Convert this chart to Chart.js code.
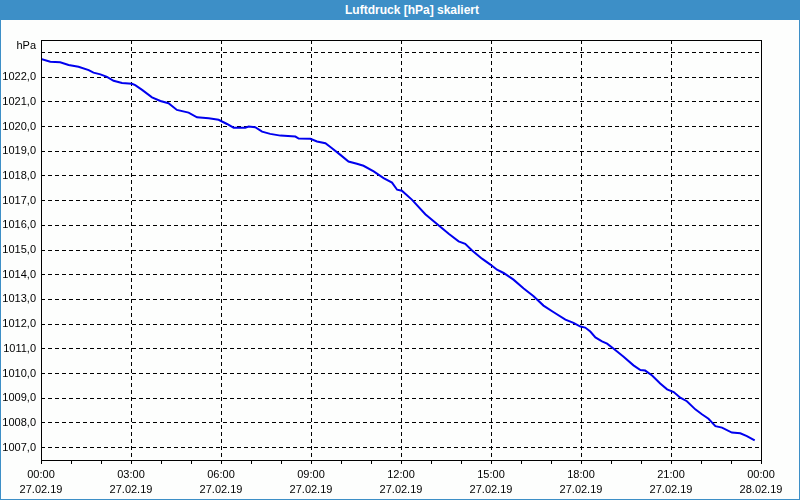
<!DOCTYPE html>
<html>
<head>
<meta charset="utf-8">
<script src="https://cdn.jsdelivr.net/npm/chart.js@4.4.1/dist/chart.umd.min.js"></script>
<style>
    html, body { margin: 0; padding: 0; background: #fdfefd; }
    #frame { position: relative; width: 798px; height: 499px; border: 1px solid #3d8fc7; border-top: none; background: #fdfefd; }
    #titlebar { height: 20px; background: #3d8fc7; color: #fff; font: bold 12px "Liberation Sans", sans-serif;
                line-height: 20px; text-align: center; padding-left: 24px; box-sizing: border-box; }
    #wrap { position: absolute; left: 0; top: 20px; width: 798px; height: 479px; }
</style>
</head>
<body>
<div id="frame">
    <div id="titlebar">Luftdruck [hPa] skaliert</div>
    <div id="wrap"><canvas id="pressChart"></canvas></div>
</div>
<script>
const hours = [0.00, 0.31, 0.64, 0.92, 1.25, 1.59, 1.75, 1.98, 2.20, 2.42, 2.70, 3.03, 3.14, 3.37, 3.70, 3.98,
    4.25, 4.53, 4.92, 5.20, 5.59, 5.92, 6.20, 6.42, 6.81, 6.92, 7.14, 7.37, 7.64, 7.98, 8.48, 8.59, 8.98,
    9.20, 9.48, 9.70, 9.98, 10.25, 10.53, 10.75, 11.09, 11.42, 11.70, 11.87, 12.03, 12.37, 12.81, 13.20,
    13.59, 13.92, 14.14, 14.37, 14.70, 14.98, 15.20, 15.42, 15.75, 16.09, 16.42, 16.75, 17.09, 17.48,
    17.75, 17.98, 18.14, 18.31, 18.48, 18.70, 18.87, 19.09, 19.42, 19.75, 19.98, 20.14, 20.37, 20.64,
    20.87, 21.09, 21.31, 21.53, 21.81, 22.03, 22.25, 22.48, 22.70, 23.03, 23.31, 23.53, 23.79];
const pressure = [1022.73, 1022.62, 1022.60, 1022.49, 1022.42, 1022.28, 1022.18, 1022.11, 1022.01, 1021.85,
    1021.76, 1021.73, 1021.67, 1021.48, 1021.18, 1021.03, 1020.94, 1020.67, 1020.56, 1020.37, 1020.33,
    1020.27, 1020.10, 1019.95, 1019.95, 1020.00, 1019.97, 1019.79, 1019.70, 1019.63, 1019.59, 1019.51,
    1019.50, 1019.39, 1019.32, 1019.12, 1018.85, 1018.58, 1018.49, 1018.41, 1018.18, 1017.91, 1017.73,
    1017.44, 1017.40, 1017.03, 1016.45, 1016.05, 1015.66, 1015.35, 1015.25, 1014.98, 1014.65, 1014.41,
    1014.20, 1014.07, 1013.80, 1013.44, 1013.13, 1012.75, 1012.48, 1012.18, 1012.05, 1011.90, 1011.86,
    1011.70, 1011.46, 1011.30, 1011.21, 1011.00, 1010.68, 1010.33, 1010.14, 1010.12, 1009.92, 1009.60,
    1009.36, 1009.25, 1009.02, 1008.88, 1008.55, 1008.35, 1008.17, 1007.87, 1007.81, 1007.61, 1007.58,
    1007.47, 1007.29];

// Achsenbeschriftung
const xTickTimes = ['00:00', '03:00', '06:00', '09:00', '12:00', '15:00', '18:00', '21:00', '00:00'];
const xTickDates = ['27.02.19', '27.02.19', '27.02.19', '27.02.19', '27.02.19', '27.02.19', '27.02.19', '27.02.19', '28.02.19'];
const yTicks = [1007, 1008, 1009, 1010, 1011, 1012, 1013, 1014, 1015, 1016, 1017, 1018, 1019, 1020, 1021, 1022, 1023];
const yUnit = 'hPa';

const FONT = '"Liberation Sans", sans-serif';

// Rahmen um den Plotbereich + Einheit oben links
const framePlugin = {
    id: 'frame',
    afterDraw(chart) {
        const { ctx, chartArea: a } = chart;
        ctx.save();
        ctx.strokeStyle = '#000';
        ctx.lineWidth = 1;
        ctx.strokeRect(Math.round(a.left) + 0.5, Math.round(a.top) + 0.5,
                       Math.round(a.right - a.left), Math.round(a.bottom - a.top));
        ctx.fillStyle = '#000';
        ctx.font = '11px ' + FONT;
        ctx.textAlign = 'right';
        ctx.textBaseline = 'middle';
        ctx.fillText(yUnit, a.left - 5, a.top + 6);
        ctx.restore();
    }
};

const points = hours.map((h, i) => ({ x: h, y: pressure[i] }));

new Chart(document.getElementById('pressChart'), {
    type: 'line',
    data: {
        datasets: [{
            data: points,
            borderColor: '#0000ee',
            borderWidth: 2,
            pointRadius: 0,
            tension: 0,
            fill: false
        }]
    },
    options: {
        responsive: true,
        maintainAspectRatio: false,
        animation: false,
        layout: { padding: { left: 0, top: 20, right: 38, bottom: 0 } },
        plugins: { legend: { display: false }, tooltip: { enabled: false } },
        scales: {
            x: {
                type: 'linear',
                min: 0,
                max: 24,
                afterBuildTicks: s => { s.ticks = Array.from({ length: 25 }, (_, i) => ({ value: i })); },
                afterFit: s => { s.height = 39; },
                border: { display: false, dash: [4, 3] },
                grid: {
                    color: c => (c.tick && c.tick.value % 3 === 0) ? '#000' : 'rgba(0,0,0,0)',
                    tickColor: '#000',
                    tickLength: 4,
                    lineWidth: 1
                },
                ticks: {
                    autoSkip: false,
                    maxRotation: 0,
                    padding: 4,
                    color: '#000',
                    font: { family: FONT, size: 11, lineHeight: 1.35 },
                    callback: v => v % 3 === 0 ? [xTickTimes[v / 3], xTickDates[v / 3]] : ''
                }
            },
            y: {
                min: 1006.5,
                max: 1023.5,
                afterBuildTicks: s => { s.ticks = yTicks.map(v => ({ value: v })); },
                afterFit: s => { s.width = 40; },
                border: { display: false, dash: [4, 3] },
                grid: { color: '#000', lineWidth: 1, drawTicks: false },
                ticks: {
                    padding: 5,
                    color: '#000',
                    font: { family: FONT, size: 11 },
                    callback: v => v === 1023 ? '' : v.toFixed(1).replace('.', ',')
                }
            }
        }
    },
    plugins: [framePlugin]
});
</script>
</body>
</html>
